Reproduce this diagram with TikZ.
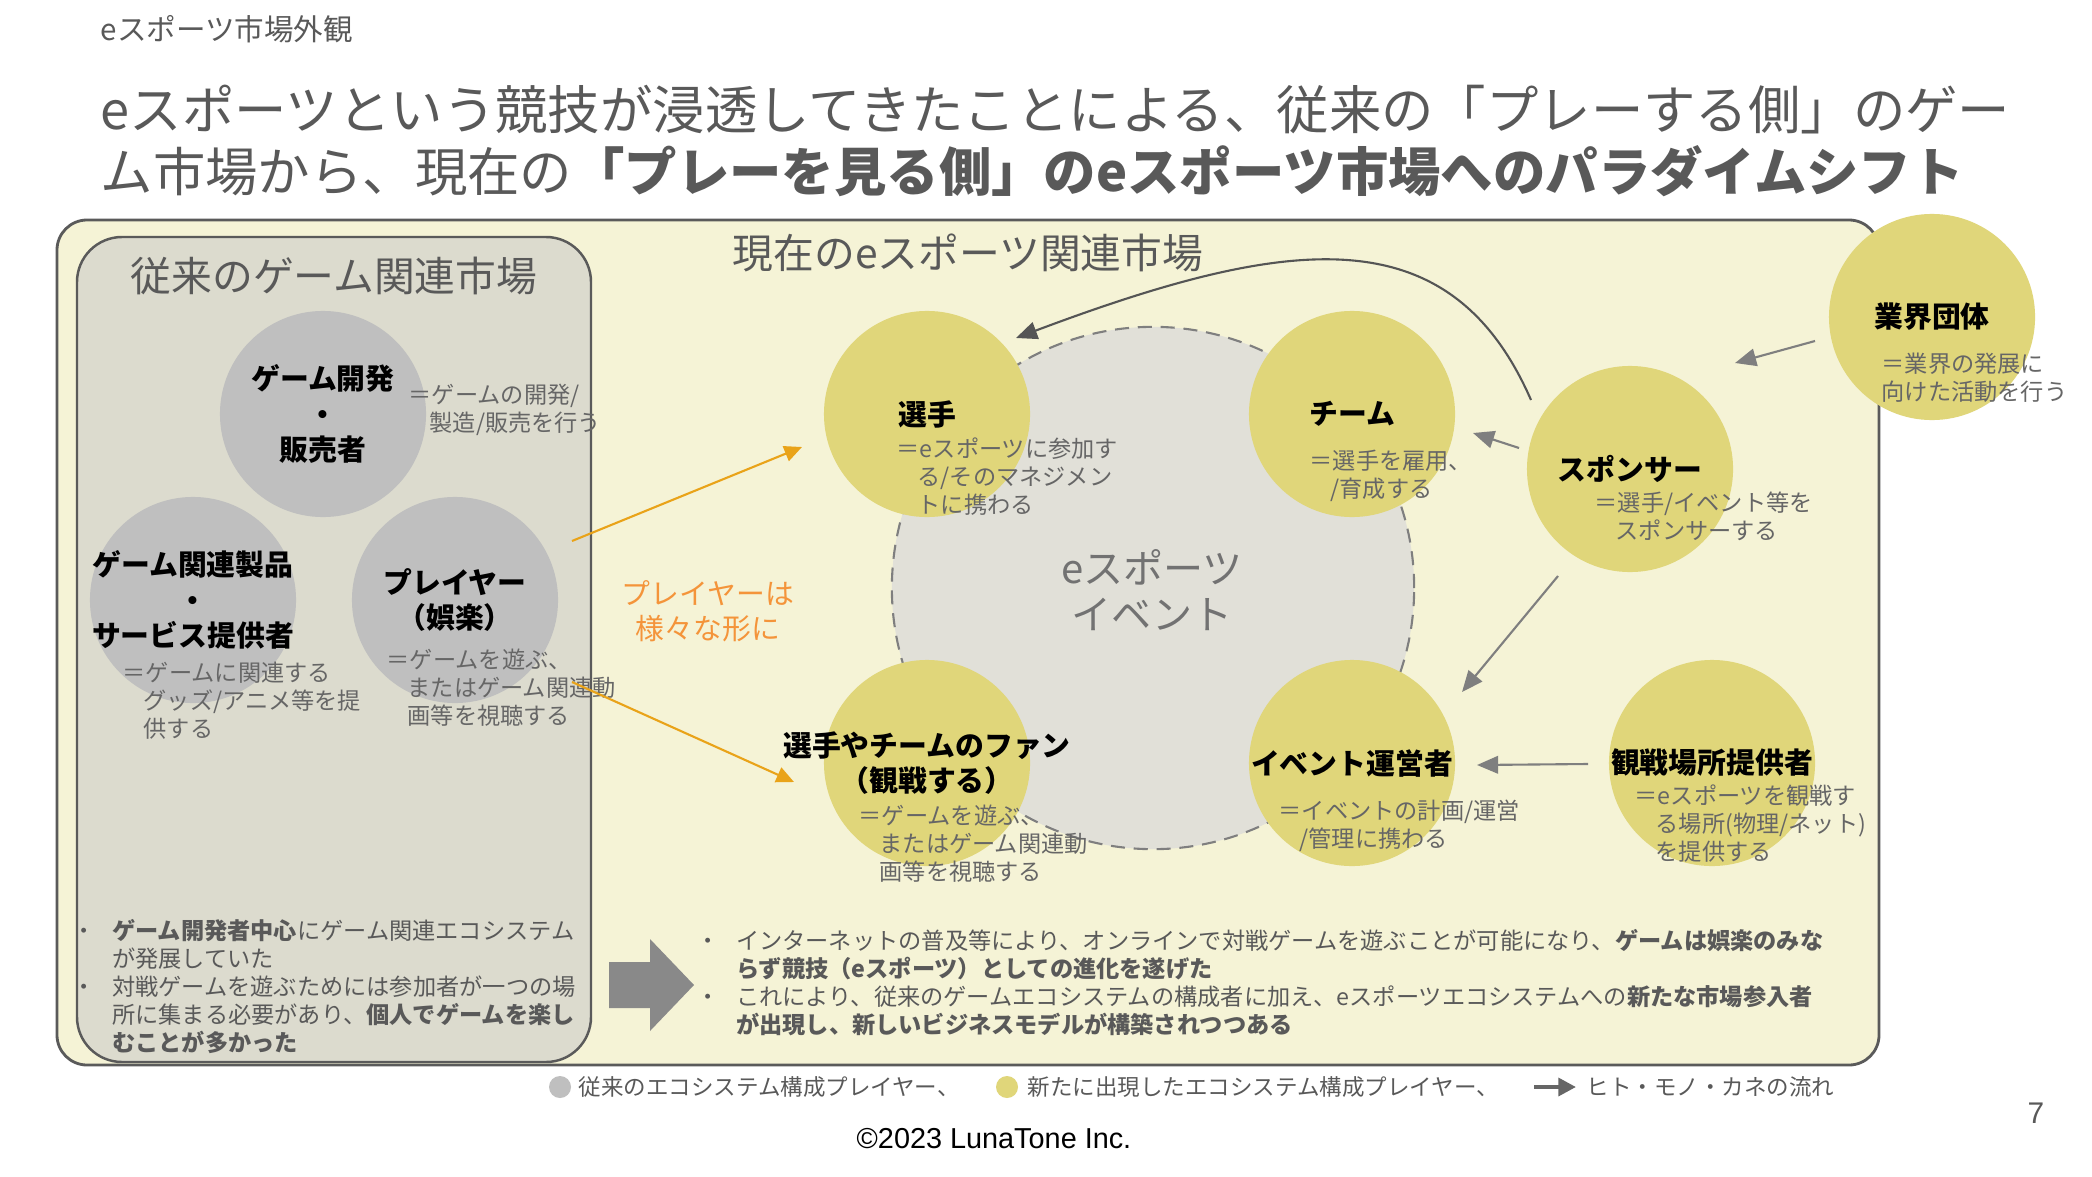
\documentclass[tikz,border=0pt]{standalone}
\usepackage{fontspec}
\setmainfont{Noto Sans CJK JP}
\newfontfamily\latinfont{Liberation Sans}
\usetikzlibrary{positioning, arrows.meta}
\definecolor{txtgray}{HTML}{595959}
\definecolor{descgray}{HTML}{666666}
\definecolor{bgyel}{HTML}{F5F3D6}
\definecolor{oldbox}{HTML}{DCDBCE}
\definecolor{boxline}{HTML}{5A5A5A}
\definecolor{oldgray}{HTML}{BFBFBF}
\definecolor{newyel}{HTML}{E0D67A}
\definecolor{evfill}{HTML}{E1E0D8}
\definecolor{evline}{HTML}{7F7F7F}
\definecolor{evtext}{HTML}{727272}
\definecolor{arrgray}{HTML}{7F7F7F}
\definecolor{curvgray}{HTML}{555555}
\definecolor{blockgray}{HTML}{898989}
\definecolor{orline}{RGB}{233,163,25}
\definecolor{ortext}{RGB}{244,148,58}
\newcommand\descind{\hspace*{0.9em}}
\newcommand\bul{\makebox[1.7em][l]{・}}

\begin{document}
\begin{tikzpicture}[
    x=0.01cm, y=-0.01cm,
    circ/.style = {circle, minimum size=2.06cm, inner sep=0pt},
    oldp/.style = {circ, fill=oldgray},
    newp/.style = {circ, fill=newyel},
    ttl/.style = {align=center, text=black, inner sep=0pt,
                  font=\bfseries\fontsize{8.2pt}{10pt}\selectfont},
    desc/.style = {anchor=north west, inner sep=0pt, align=left, text=descgray,
                   font=\fontsize{6.6pt}{7.97pt}\selectfont},
    seclbl/.style = {text=txtgray, inner sep=0pt,
                     font=\fontsize{11.6pt}{14pt}\selectfont},
    leg/.style = {anchor=west, inner sep=0pt, text=txtgray,
                  font=\fontsize{6.4pt}{8pt}\selectfont},
    flow/.style = {-{Triangle[length=6pt,width=5pt]}, line width=0.6pt, arrgray},
    orarr/.style = {-{Triangle[length=5pt,width=4.5pt]}, line width=0.6pt, orline},
  ]
    \fill[white] (0,0) rectangle (2092,1176);
    \useasboundingbox (0,0) rectangle (2092,1176);

    % heading and title
    \node[anchor=west, inner sep=0pt, text=txtgray,
          font=\fontsize{8.4pt}{10pt}\selectfont] (head) at (100,29) {eスポーツ市場外観};
    \node[anchor=north west, inner sep=0pt, align=left, text=txtgray,
          font=\fontsize{14.9pt}{17.6pt}\selectfont] (title) at (100,84)
      {eスポーツという競技が浸透してきたことによる、従来の「プレーする側」のゲー\\
       ム市場から、現在の\textbf{「プレーを見る側」のeスポーツ市場へのパラダイムシフト}};

    % market boxes
    \draw[line width=0.8pt, boxline, fill=bgyel, rounded corners=0.3cm]
      (57,220) rectangle (1879,1065);
    \draw[line width=0.7pt, boxline, fill=oldbox, rounded corners=0.45cm]
      (77,237) rectangle (591,1062);
    \node[seclbl] (oldlbl) at (334,276) {従来のゲーム関連市場};
    \node[seclbl] (newlbl) at (968,253) {現在のeスポーツ関連市場};

    % eSports event
    \node[circle, minimum size=5.22cm, inner sep=0pt, fill=evfill, draw=evline,
          line width=0.6pt, dash pattern=on 4pt off 2.5pt] (esport) at (1153,588) {};
    \node[align=center, text=evtext, inner sep=0pt,
          font=\fontsize{11.4pt}{13.3pt}\selectfont] (esport-t) at (1152,590)
      {eスポーツ\\イベント};

    % traditional players
    \node[oldp] (gdev)   at (323,414) {};
    \node[oldp] (goods)  at (193,600) {};
    \node[oldp] (player) at (455,600) {};
    \node[ttl] (gdev-t)   at (gdev)   {ゲーム開発\\・\\販売者};
    \node[ttl] (goods-t)  at (goods)  {ゲーム関連製品\\・\\サービス提供者};
    \node[ttl] (player-t) at (player) {プレイヤー\\（娯楽）};

    % new players
    \node[newp] (senshu)    at (927,414)  {};
    \node[newp] (team)      at (1352,414) {};
    \node[newp] (sponsor)   at (1630,469) {};
    \node[newp] (gyokai)    at (1932,317) {};
    \node[newp] (fan)       at (927,763)  {};
    \node[newp] (organizer) at (1352,763) {};
    \node[newp] (kansen)    at (1712,763) {};
    \node[ttl] (senshu-t)    at (senshu)    {選手};
    \node[ttl] (team-t)      at (team)      {チーム};
    \node[ttl] (sponsor-t)   at (sponsor)   {スポンサー};
    \node[ttl] (gyokai-t)    at (gyokai)    {業界団体};
    \node[ttl] (fan-t)       at (fan)       {選手やチームのファン\\（観戦する）};
    \node[ttl] (organizer-t) at (organizer) {イベント運営者};
    \node[ttl] (kansen-t)    at (kansen)    {観戦場所提供者};

    % descriptions
    \node[desc] (gdev-d)   at (408,383)  {＝ゲームの開発/\\\descind 製造/販売を行う};
    \node[desc] (goods-d)  at (122,661)  {＝ゲームに関連する\\\descind グッズ/アニメ等を提\\\descind 供する};
    \node[desc] (player-d) at (386,648)  {＝ゲームを遊ぶ、\\\descind またはゲーム関連動\\\descind 画等を視聴する};
    \node[desc] (senshu-d) at (896,437)  {＝eスポーツに参加す\\\descind る/そのマネジメン\\\descind トに携わる};
    \node[desc] (team-d)   at (1309,449) {＝選手を雇用、\\\descind /育成する};
    \node[desc] (sponsor-d) at (1594,491) {＝選手/イベント等を\\\descind スポンサーする};
    \node[desc] (gyokai-d) at (1881,352) {＝業界の発展に\\向けた活動を行う};
    \node[desc] (fan-d)    at (858,804)  {＝ゲームを遊ぶ、\\\descind またはゲーム関連動\\\descind 画等を視聴する};
    \node[desc] (organizer-d) at (1278,799) {＝イベントの計画/運営\\\descind /管理に携わる};
    \node[desc] (kansen-d) at (1634,784) {＝eスポーツを観戦す\\\descind る場所(物理/ネット)\\\descind を提供する};

    \node[align=center, text=ortext, inner sep=0pt,
          font=\fontsize{8.2pt}{9.9pt}\selectfont] (varied) at (708,611)
      {プレイヤーは\\様々な形に};

    % flows
    \draw[orarr] ([shift={(117,-59)}]player.center) -- ([shift={(-125,33)}]senshu.center);
    \draw[orarr] ([shift={(117,82)}]player.center) -- ([shift={(-133,19)}]fan.center);
    \draw[flow] ([shift={(-111,-21)}]sponsor.center) -- ([shift={(121,19)}]team.center);
    \draw[flow] ([shift={(-117,24)}]gyokai.center) -- ([shift={(105,-106)}]sponsor.center);
    \draw[flow] ([shift={(-72,107)}]sponsor.center) -- ([shift={(110,-71)}]organizer.center);
    \draw[flow] ([shift={(-124,1)}]kansen.center) -- ([shift={(125,2)}]organizer.center);
    \draw[-{Triangle[length=6pt,width=5pt]}, line width=0.6pt, curvgray]
      ([shift={(-99,-69)}]sponsor.center) .. controls (1450,215) and (1290,235)
      .. ([shift={(89,-76)}]senshu.center);

    % summary
    \node[desc, text=txtgray] (oldtxt) at (72,919)
      {\bul\textbf{ゲーム開発者中心}にゲーム関連エコシステム\\
       \hspace*{1.7em}が発展していた\\
       \bul 対戦ゲームを遊ぶためには参加者が一つの場\\
       \hspace*{1.7em}所に集まる必要があり、\textbf{個人でゲームを楽し}\\
       \hspace*{1.7em}\textbf{むことが多かった}};
    \fill[blockgray] (609,962) -- (650,962) -- (650,939) -- (694,985)
      -- (650,1031) -- (650,1008) -- (609,1008) -- cycle;
    \node[desc, text=txtgray] (newtxt) at (696,929)
      {\bul インターネットの普及等により、オンラインで対戦ゲームを遊ぶことが可能になり、\textbf{ゲームは娯楽のみな}\\
       \hspace*{1.7em}\textbf{らず競技（eスポーツ）としての進化を遂げた}\\
       \bul これにより、従来のゲームエコシステムの構成者に加え、eスポーツエコシステムへの\textbf{新たな市場参入者}\\
       \hspace*{1.7em}\textbf{が出現し、新しいビジネスモデルが構築されつつある}};

    % legend
    \node[circle, fill=oldgray, minimum size=0.22cm, inner sep=0pt] (legold) at (560,1087) {};
    \node[leg] (legold-t) at (578,1087) {従来のエコシステム構成プレイヤー、};
    \node[circle, fill=newyel, minimum size=0.22cm, inner sep=0pt] (legnew) at (1007,1087) {};
    \node[leg] (legnew-t) at (1027,1087) {新たに出現したエコシステム構成プレイヤー、};
    \coordinate (legarr) at (1534,1087);
    \node[leg] (legflow-t) at (1586,1087) {ヒト・モノ・カネの流れ};
    \draw[-{Triangle[length=5pt,width=5pt]}, line width=1.2pt, curvgray!90]
      (legarr) -- ([xshift=-0.1cm]legflow-t.west);

    % footer
    \node[inner sep=0pt, font=\latinfont\fontsize{8.2pt}{10pt}\selectfont] (copy) at (994,1139)
      {©2023 LunaTone Inc.};
    \node[inner sep=0pt, text=txtgray, font=\latinfont\fontsize{8.5pt}{10pt}\selectfont] (pgno)
      at (2036,1113) {7};
  \end{tikzpicture}
\end{document}
